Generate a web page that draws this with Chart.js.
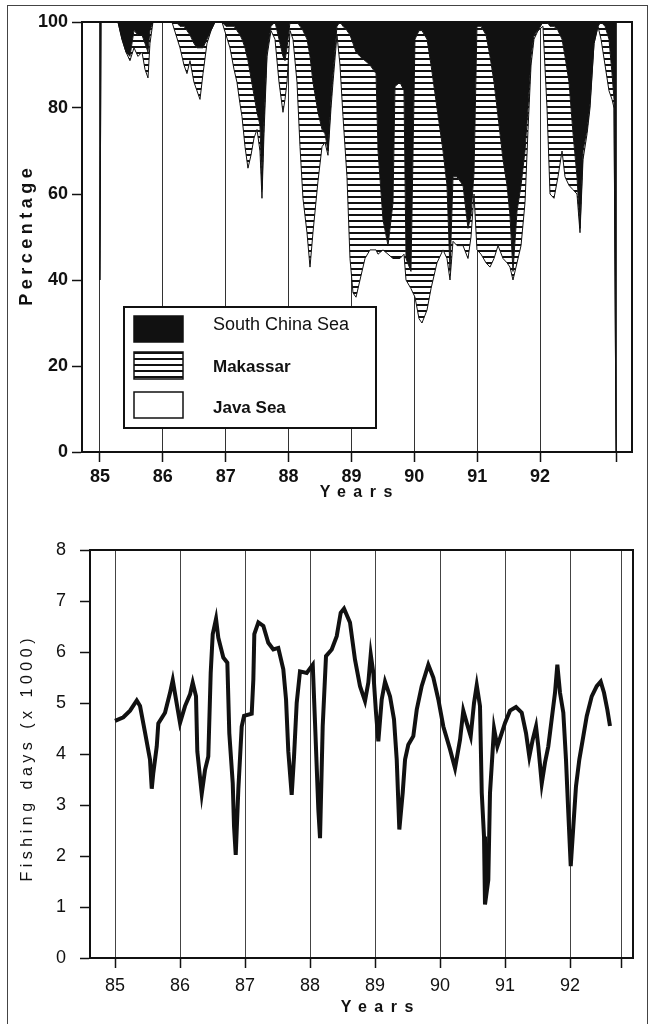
<!DOCTYPE html>
<html>
<head>
<meta charset="utf-8">
<title>Fishing effort by area</title>
<script src="https://cdn.jsdelivr.net/npm/chart.js@4.4.1/dist/chart.umd.min.js"></script>
<style>
  html, body { margin: 0; padding: 0; background: #fff; }
  body { width: 652px; height: 1024px; position: relative; overflow: hidden; }
  .frame { position: absolute; left: 7px; top: 5px; width: 639px; height: 1040px; border: 1px solid #444; }
  canvas { position: absolute; left: 0; }
  #shareChart { top: 0; }
  #effortChart { top: 510px; }
</style>
</head>
<body>
<div class="frame"></div>
<canvas id="shareChart" width="652" height="510"></canvas>
<canvas id="effortChart" width="652" height="514"></canvas>
<script>
// axis ticks
const yearTicks = [85, 86, 87, 88, 89, 90, 91, 92];
const yearLabels = ['85', '86', '87', '88', '89', '90', '91', '92'];
const areaNames = ['Java Sea', 'Makassar', 'South China Sea'];

// top panel: share of fishing per area (%)
const shareYears = [
  85.000, 85.016, 85.286, 85.350, 85.414, 85.477, 85.541, 85.605, 85.668, 85.716,
  85.764, 85.795, 85.843, 86.145, 86.209, 86.273, 86.336, 86.384, 86.432, 86.495,
  86.543, 86.591, 86.639, 86.702, 86.766, 86.829, 86.941, 87.004, 87.068, 87.132,
  87.179, 87.227, 87.259, 87.307, 87.354, 87.402, 87.450, 87.498, 87.545, 87.577,
  87.609, 87.657, 87.720, 87.784, 87.848, 87.911, 87.943, 87.975, 88.023, 88.070,
  88.134, 88.182, 88.229, 88.293, 88.341, 88.388, 88.468, 88.532, 88.579, 88.627,
  88.675, 88.707, 88.770, 88.818, 88.866, 88.929, 88.977, 89.025, 89.073, 89.136,
  89.216, 89.295, 89.391, 89.423, 89.502, 89.582, 89.661, 89.693, 89.772, 89.836,
  89.868, 89.947, 90.011, 90.075, 90.122, 90.202, 90.266, 90.361, 90.457, 90.520,
  90.568, 90.616, 90.679, 90.775, 90.854, 90.902, 90.950, 90.997, 91.061, 91.141,
  91.204, 91.268, 91.332, 91.411, 91.475, 91.522, 91.570, 91.634, 91.698, 91.761,
  91.809, 91.857, 91.904, 91.968, 92.047, 92.111, 92.159, 92.222, 92.286, 92.350,
  92.397, 92.461, 92.525, 92.588, 92.636, 92.684, 92.748, 92.795, 92.859, 92.922,
  92.970, 93.034, 93.097, 93.145, 93.177, 93.209
];
const javaShare = [
  40, 100, 100, 96, 93, 91, 94, 92, 93, 89,
  87, 95, 100, 100, 97, 94, 90, 88, 91, 86,
  84, 82, 88, 95, 98, 100, 100, 97, 94, 89,
  86, 81, 78, 71, 66, 69, 73, 75, 70, 59,
  74, 92, 98, 96, 86, 79, 82, 86, 98, 96,
  86, 71, 59, 51, 43, 51, 63, 71, 72, 69,
  80, 86, 97, 90, 78, 64, 45, 37, 36, 40,
  45, 47, 47, 46, 47, 46, 45, 45, 45, 46,
  40, 38, 36, 31, 30, 33, 38, 44, 47, 45,
  40, 49, 48, 48, 45, 50, 60, 47, 46, 44,
  43, 45, 48, 45, 44, 43, 40, 44, 48, 58,
  75, 90, 96, 98, 99, 80, 60, 59, 64, 70,
  64, 62, 61, 60, 51, 68, 74, 80, 95, 99,
  96, 90, 84, 82, 80, 0
];
const makassarShare = [
  0, 0, 0, 0, 0, 1, 4, 5, 4, 6,
  6, 3, 0, 0, 3, 5, 9, 10, 6, 9,
  10, 12, 6, 1, 0, 0, 0, 2, 5, 10,
  12, 16, 18, 23, 25, 18, 10, 4, 6, 2,
  3, 1, 1, 4, 10, 13, 9, 8, 2, 4,
  14, 28, 39, 45, 49, 35, 16, 4, 2, 1,
  2, 2, 2, 10, 21, 34, 52, 58, 57, 52,
  46, 43, 41, 24, 7, 2, 13, 40, 41, 38,
  5, 4, 60, 67, 68, 63, 52, 36, 23, 17,
  2, 15, 16, 14, 7, 5, 5, 52, 53, 53,
  49, 41, 30, 23, 18, 12, 2, 12, 14, 12,
  5, 2, 1, 0, 1, 20, 39, 40, 34, 26,
  28, 24, 13, 4, 1, 2, 1, 1, 0, 0,
  4, 9, 12, 6, 2, 0
];
const southChinaShare = [
  60, 0, 0, 4, 7, 8, 2, 3, 3, 5,
  7, 2, 0, 0, 0, 1, 1, 2, 3, 5,
  6, 6, 6, 4, 2, 0, 0, 1, 1, 1,
  2, 3, 4, 6, 9, 13, 17, 21, 24, 39,
  23, 7, 1, 0, 4, 8, 9, 6, 0, 0,
  0, 1, 2, 4, 8, 14, 21, 25, 26, 30,
  18, 12, 1, 0, 1, 2, 3, 5, 7, 8,
  9, 10, 12, 30, 46, 52, 42, 15, 14, 16,
  55, 58, 4, 2, 2, 4, 10, 20, 30, 38,
  58, 36, 36, 38, 48, 45, 35, 1, 1, 3,
  8, 14, 22, 32, 38, 45, 58, 44, 38, 30,
  20, 8, 3, 2, 0, 0, 1, 1, 2, 4,
  8, 14, 26, 36, 48, 30, 25, 19, 5, 1,
  0, 1, 4, 12, 18, 100
];

// bottom panel: fishing days (x 1000)
const effortYears = [
  85.000, 85.128, 85.231, 85.334, 85.385, 85.462, 85.538, 85.565, 85.589, 85.642,
  85.666, 85.769, 85.846, 85.888, 85.938, 86.000, 86.077, 86.154, 86.195, 86.246,
  86.266, 86.334, 86.385, 86.435, 86.472, 86.503, 86.554, 86.589, 86.666, 86.728,
  86.758, 86.811, 86.831, 86.857, 86.897, 86.949, 86.985, 87.103, 87.128, 87.143,
  87.205, 87.282, 87.358, 87.435, 87.512, 87.589, 87.631, 87.666, 87.718, 87.754,
  87.795, 87.846, 87.949, 88.042, 88.077, 88.128, 88.154, 88.195, 88.246, 88.334,
  88.411, 88.472, 88.523, 88.615, 88.692, 88.769, 88.846, 88.897, 88.934, 88.974,
  89.015, 89.051, 89.103, 89.154, 89.231, 89.292, 89.334, 89.374, 89.426, 89.462,
  89.512, 89.589, 89.642, 89.718, 89.820, 89.897, 89.974, 90.051, 90.154, 90.231,
  90.308, 90.358, 90.411, 90.472, 90.523, 90.565, 90.615, 90.642, 90.677, 90.692,
  90.743, 90.769, 90.811, 90.831, 90.882, 90.949, 91.000, 91.077, 91.169, 91.257,
  91.323, 91.374, 91.426, 91.477, 91.512, 91.565, 91.615, 91.666, 91.718, 91.769,
  91.805, 91.846, 91.897, 91.938, 91.974, 92.011, 92.051, 92.092, 92.143, 92.205,
  92.257, 92.334, 92.411, 92.472, 92.523, 92.574, 92.615
];
const fishingDays = [
  4.65, 4.72, 4.85, 5.05, 4.94, 4.42, 3.89, 3.32, 3.63, 4.15,
  4.60, 4.81, 5.20, 5.45, 5.07, 4.61, 4.94, 5.17, 5.40, 5.13,
  4.05, 3.22, 3.69, 3.95, 5.59, 6.35, 6.65, 6.28, 5.89, 5.79,
  4.41, 3.43, 2.58, 2.02, 3.30, 4.54, 4.75, 4.79, 5.46, 6.35,
  6.58, 6.51, 6.18, 6.05, 6.08, 5.66, 5.07, 4.05, 3.20, 3.95,
  5.00, 5.62, 5.59, 5.75, 4.61, 2.91, 2.35, 4.54, 5.92, 6.05,
  6.31, 6.77, 6.85, 6.58, 5.85, 5.33, 5.04, 5.40, 5.95, 5.59,
  4.81, 4.25, 5.07, 5.42, 5.13, 4.68, 3.89, 2.52, 3.24, 3.89,
  4.18, 4.35, 4.87, 5.33, 5.75, 5.50, 5.07, 4.54, 4.09, 3.72,
  4.28, 4.85, 4.61, 4.35, 5.00, 5.35, 4.94, 3.24, 2.38, 1.05,
  1.53, 3.24, 4.09, 4.50, 4.15, 4.41, 4.61, 4.85, 4.92, 4.81,
  4.41, 3.95, 4.28, 4.54, 4.15, 3.42, 3.83, 4.15, 4.68, 5.20,
  5.75, 5.20, 4.81, 3.89, 2.84, 1.80, 2.58, 3.37, 3.89, 4.35,
  4.74, 5.13, 5.33, 5.42, 5.20, 4.87, 4.55
];

const FONT = "'Liberation Sans', Arial, Helvetica, sans-serif";
const INK = '#111';
Chart.defaults.font.family = FONT;
Chart.defaults.color = INK;

function toPoints(xs, ys) {
  return xs.map((x, i) => ({ x: x, y: ys[i] }));
}

// horizontal hatching used for Makassar
function stripePattern() {
  const c = document.createElement('canvas');
  c.width = 8;
  c.height = 6;
  const g = c.getContext('2d');
  g.fillStyle = '#fff';
  g.fillRect(0, 0, 8, 6);
  g.fillStyle = INK;
  g.fillRect(0, 4, 8, 2);
  return g.createPattern(c, 'repeat');
}

function yearAxisTicks(endTick) {
  return axis => {
    axis.ticks = yearTicks.concat([endTick]).map(v => ({ value: v }));
  };
}

function yearLabel(value) {
  const i = yearTicks.indexOf(value);
  return i >= 0 ? yearLabels[i] : '';
}

// top and right edge of the plot box
const plotFrame = {
  id: 'plotFrame',
  afterDraw(chart) {
    const { ctx, chartArea: a } = chart;
    ctx.save();
    ctx.strokeStyle = INK;
    ctx.lineWidth = 2;
    ctx.beginPath();
    ctx.moveTo(a.left, a.top);
    ctx.lineTo(a.right, a.top);
    ctx.lineTo(a.right, a.bottom);
    ctx.stroke();
    ctx.restore();
  }
};

// spaced-out axis titles like the printed figure
const axisTitles = {
  id: 'axisTitles',
  afterDraw(chart, args, opts) {
    const ctx = chart.ctx;
    (opts.items || []).forEach(item => {
      ctx.save();
      ctx.font = item.font;
      ctx.fillStyle = INK;
      if ('letterSpacing' in ctx) ctx.letterSpacing = item.spacing + 'px';
      ctx.textAlign = 'center';
      ctx.textBaseline = 'middle';
      ctx.translate(item.x, item.y);
      ctx.rotate(item.rotate || 0);
      ctx.fillText(item.text, item.spacing / 2, 0);
      ctx.restore();
    });
  }
};

// boxed legend sitting inside the plot
const boxLegend = {
  id: 'boxLegend',
  afterDraw(chart, args, opts) {
    if (!opts.box) return;
    const ctx = chart.ctx;
    const b = opts.box;
    ctx.save();
    ctx.fillStyle = '#fff';
    ctx.fillRect(b.x, b.y, b.w, b.h);
    ctx.lineWidth = 2;
    ctx.strokeStyle = INK;
    ctx.strokeRect(b.x, b.y, b.w, b.h);
    chart.data.datasets.slice().reverse().forEach((ds, i) => {
      const row = opts.rows[i];
      ctx.fillStyle = '#fff';
      ctx.fillRect(opts.swatchX, row.top, opts.swatchW, row.h);
      ctx.fillStyle = ds.backgroundColor;
      ctx.fillRect(opts.swatchX, row.top, opts.swatchW, row.h);
      ctx.lineWidth = 1.5;
      ctx.strokeRect(opts.swatchX, row.top, opts.swatchW, row.h);
      ctx.fillStyle = INK;
      ctx.font = row.font;
      ctx.textAlign = 'left';
      ctx.textBaseline = 'middle';
      ctx.fillText(ds.label, opts.textX, row.y);
    });
    ctx.restore();
  }
};

const stripes = stripePattern();

new Chart(document.getElementById('shareChart'), {
  type: 'line',
  data: {
    datasets: [
      { label: areaNames[0], data: toPoints(shareYears, javaShare), fill: 'origin',
        backgroundColor: 'rgba(255,255,255,0)', borderColor: INK, borderWidth: 1 },
      { label: areaNames[1], data: toPoints(shareYears, makassarShare), fill: '-1',
        backgroundColor: stripes, borderColor: INK, borderWidth: 1 },
      { label: areaNames[2], data: toPoints(shareYears, southChinaShare), fill: '-1',
        backgroundColor: INK, borderColor: INK, borderWidth: 0 }
    ]
  },
  options: {
    responsive: false,
    animation: false,
    layout: { padding: { top: 22, right: 20, left: 0, bottom: 0 } },
    elements: { point: { radius: 0 }, line: { tension: 0 } },
    plugins: {
      legend: { display: false },
      tooltip: { enabled: false },
      axisTitles: {
        items: [
          { text: 'Percentage', x: 27, y: 237, rotate: -Math.PI / 2, font: 'bold 18px ' + FONT, spacing: 4.5 },
          { text: 'Years', x: 356, y: 493, font: 'bold 16px ' + FONT, spacing: 7.5 }
        ]
      },
      boxLegend: {
        box: { x: 124, y: 307, w: 252, h: 121 },
        swatchX: 134, swatchW: 49, textX: 213,
        rows: [
          { top: 316, h: 26, y: 325, font: '18px ' + FONT },
          { top: 352, h: 27, y: 367, font: 'bold 17px ' + FONT },
          { top: 392, h: 26, y: 408, font: 'bold 17px ' + FONT }
        ]
      }
    },
    scales: {
      x: {
        type: 'linear',
        min: 84.714,
        max: 93.463,
        afterBuildTicks: yearAxisTicks(93.21),
        afterFit: s => { s.height = 58; },
        ticks: { autoSkip: false, maxRotation: 0, padding: 4, callback: yearLabel,
                 font: { size: 18, weight: 'bold' } },
        grid: { color: '#333', lineWidth: 1, tickLength: 10, tickColor: INK, tickWidth: 1.5 },
        border: { color: INK, width: 2 }
      },
      y: {
        stacked: true,
        min: 0,
        max: 100,
        afterFit: s => { s.width = 82; },
        ticks: { stepSize: 20, padding: 4, font: { size: 18, weight: 'bold' } },
        grid: { drawOnChartArea: false, tickLength: 10, tickColor: INK, tickWidth: 1.5 },
        border: { color: INK, width: 2 }
      }
    }
  },
  plugins: [plotFrame, axisTitles, boxLegend]
});

new Chart(document.getElementById('effortChart'), {
  type: 'line',
  data: {
    datasets: [{
      label: 'Fishing days',
      data: toPoints(effortYears, fishingDays),
      borderColor: INK,
      borderWidth: 4,
      fill: false
    }]
  },
  options: {
    responsive: false,
    animation: false,
    layout: { padding: { top: 40, right: 19, left: 0, bottom: 0 } },
    elements: { point: { radius: 0 }, line: { tension: 0 } },
    plugins: {
      legend: { display: false },
      tooltip: { enabled: false },
      axisTitles: {
        items: [
          { text: 'Fishing days (x 1000)', x: 28, y: 250, rotate: -Math.PI / 2, font: '16px ' + FONT, spacing: 4.5 },
          { text: 'Years', x: 377, y: 498, font: 'bold 16px ' + FONT, spacing: 7.5 }
        ]
      }
    },
    scales: {
      x: {
        type: 'linear',
        min: 84.615,
        max: 92.969,
        afterBuildTicks: yearAxisTicks(92.785),
        afterFit: s => { s.height = 66; },
        ticks: { autoSkip: false, maxRotation: 0, padding: 7, callback: yearLabel,
                 font: { size: 18 } },
        grid: { color: '#444', lineWidth: 1, tickLength: 10, tickColor: INK, tickWidth: 1.5 },
        border: { color: INK, width: 2 }
      },
      y: {
        min: 0,
        max: 8,
        afterFit: s => { s.width = 90; },
        ticks: { stepSize: 1, padding: 14, font: { size: 18 } },
        grid: { drawOnChartArea: false, tickLength: 10, tickColor: INK, tickWidth: 1.5 },
        border: { color: INK, width: 2 }
      }
    }
  },
  plugins: [plotFrame, axisTitles]
});
</script>
</body>
</html>
